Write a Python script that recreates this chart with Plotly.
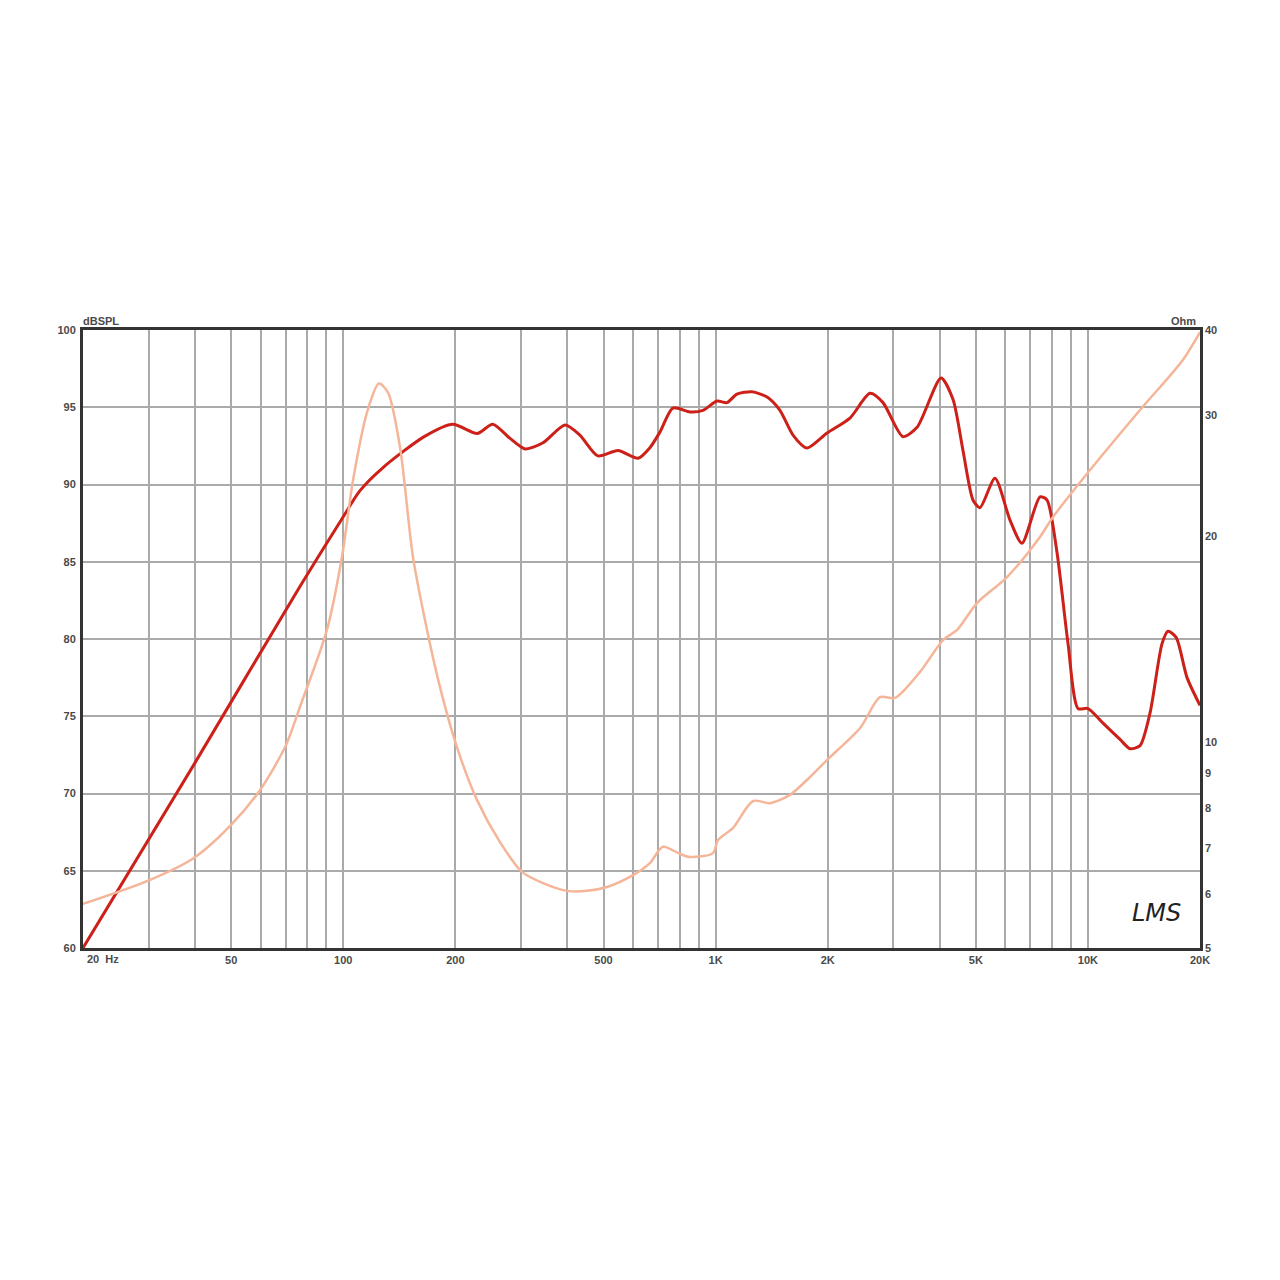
import plotly.graph_objects as go
import math

# SPL response (red), frequency in Hz, level in dB SPL
spl_freq = [20, 40, 76.5, 99.9, 110.9, 127.9, 165, 197, 229, 252, 280, 308, 344, 394, 432, 483,
            547, 619, 667, 709, 768, 854, 925, 1009, 1073, 1141, 1253, 1375, 1489, 1614, 1760,
            1992, 2296, 2598, 2816, 3186, 3476, 4032, 4343, 4618, 4912, 5130, 5628, 6176, 6650,
            7434, 7763, 8260, 8843, 9406, 10004, 10980, 12196, 12972, 13802, 14680, 15814, 16412,
            17256, 18460, 20000]
spl_db = [60.0, 72.0, 83.4, 87.9, 89.6, 91.1, 93.1, 93.9, 93.3, 93.9, 93.0, 92.3, 92.7, 93.85, 93.2, 91.85,
          92.2, 91.7, 92.4, 93.4, 94.95, 94.7, 94.8, 95.4, 95.3, 95.85, 96.0, 95.66, 94.8, 93.2, 92.36,
          93.33, 94.3, 95.9, 95.3, 93.1, 93.7, 96.9, 95.5, 92.2, 89.0, 88.5, 90.4, 87.7, 86.2,
          89.2, 89.0, 85.6, 79.7, 75.5, 75.5, 74.56, 73.5, 72.9, 73.1, 75.2, 79.7, 80.5,
          80.1, 77.5, 75.7]

# Impedance (light orange), frequency in Hz, impedance in Ohm
imp_freq = [20, 30.3, 39.7, 49.9, 59.8, 70.2, 76.5, 90.4, 99.2, 106.2, 115.8, 124.7, 131.9, 142,
            153.9, 167.9, 181.9, 202, 228.6, 263.6, 302, 344, 399, 451, 511, 600, 667, 722, 803,
            854, 984, 1015, 1114, 1261, 1400, 1584, 1793, 1991, 2444, 2764, 3034, 3540, 4082,
            4452, 5036, 6064, 7434, 8056, 10130, 13802, 18010, 20000]
imp_ohm = [5.80, 6.29, 6.77, 7.56, 8.51, 9.9, 11.25, 14.58, 18.64, 24.1, 30.3, 33.4, 32.4, 27.0,
           18.64, 14.58, 12.03, 9.83, 8.23, 7.14, 6.46, 6.22, 6.06, 6.06, 6.14, 6.39, 6.66, 7.03, 6.86,
           6.79, 6.88, 7.19, 7.49, 8.2, 8.14, 8.37, 8.89, 9.41, 10.48, 11.63, 11.6, 12.66, 14.09,
           14.58, 15.96, 17.42, 19.94, 21.32, 24.97, 30.56, 36.2, 39.7]

# Axis ticks
grid_freqs = [20, 30, 40, 50, 60, 70, 80, 90, 100, 200, 300, 400, 500, 600, 700, 800, 900,
              1000, 2000, 3000, 4000, 5000, 6000, 7000, 8000, 9000, 10000, 20000]
freq_labels = {50: "50", 100: "100", 200: "200", 500: "500", 1000: "1K", 2000: "2K",
               5000: "5K", 10000: "10K", 20000: "20K"}
db_ticks = [60, 65, 70, 75, 80, 85, 90, 95, 100]
ohm_ticks = [5, 6, 7, 8, 9, 10, 20, 30, 40]

tick_font = dict(family="Liberation Sans, Arial, sans-serif", size=11, color="#4a4a4a", weight="bold")
grid_color = "#aaaaaa"
frame_color = "#333333"

fig = go.Figure()
fig.add_trace(go.Scatter(x=imp_freq, y=imp_ohm, yaxis="y2", mode="lines",
                         line=dict(color="#f5b598", width=2.5, shape="spline", smoothing=0.8),
                         hoverinfo="skip", showlegend=False))
fig.add_trace(go.Scatter(x=spl_freq, y=spl_db, mode="lines",
                         line=dict(color="#cc2018", width=3, shape="spline", smoothing=0.7),
                         hoverinfo="skip", showlegend=False))

fig.update_layout(
    width=1280, height=1280,
    margin=dict(l=75, r=88, t=322, b=340, autoexpand=False),
    paper_bgcolor="white", plot_bgcolor="white",
    xaxis=dict(type="log", range=[math.log10(20), math.log10(20000)],
               tickvals=grid_freqs,
               ticktext=[freq_labels.get(f, "") for f in grid_freqs],
               showgrid=True, gridcolor=grid_color, gridwidth=2,
               showline=True, linecolor=frame_color, linewidth=3, mirror=True,
               ticks="", tickfont=tick_font, zeroline=False, automargin=False),
    yaxis=dict(range=[60, 100], tickvals=db_ticks, ticktext=[str(v) for v in db_ticks],
               showgrid=True, gridcolor=grid_color, gridwidth=2,
               showline=True, linecolor=frame_color, linewidth=3, mirror=True,
               ticks="", tickfont=tick_font, zeroline=False, ticklabelstandoff=2,
               automargin=False),
    yaxis2=dict(type="log", range=[math.log10(5), math.log10(40)], overlaying="y", side="right",
                tickvals=ohm_ticks, ticktext=[str(v) for v in ohm_ticks],
                showgrid=False, showline=False, ticks="", tickfont=tick_font, zeroline=False,
                ticklabelstandoff=4, automargin=False),
    font=tick_font,
)

fig.add_annotation(x=math.log10(20), y=0, xref="x", yref="paper", xanchor="left", yanchor="top",
                   text="20  Hz", showarrow=False, font=tick_font, xshift=2, yshift=-3)
fig.add_annotation(x=0, y=1, xref="paper", yref="paper", xanchor="left", yanchor="bottom",
                   text="dBSPL", showarrow=False, font=tick_font, xshift=-2, yshift=1)
fig.add_annotation(x=1, y=1, xref="paper", yref="paper", xanchor="right", yanchor="bottom",
                   text="Ohm", showarrow=False, font=tick_font, xshift=-2, yshift=1)
fig.add_annotation(x=0.985, y=0.03, xref="paper", yref="paper", xanchor="right", yanchor="bottom",
                   text="<i>LMS</i>", showarrow=False,
                   font=dict(family="DejaVu Sans, sans-serif", size=24, color="#222222", weight="normal"))

fig.write_html("out.html")
